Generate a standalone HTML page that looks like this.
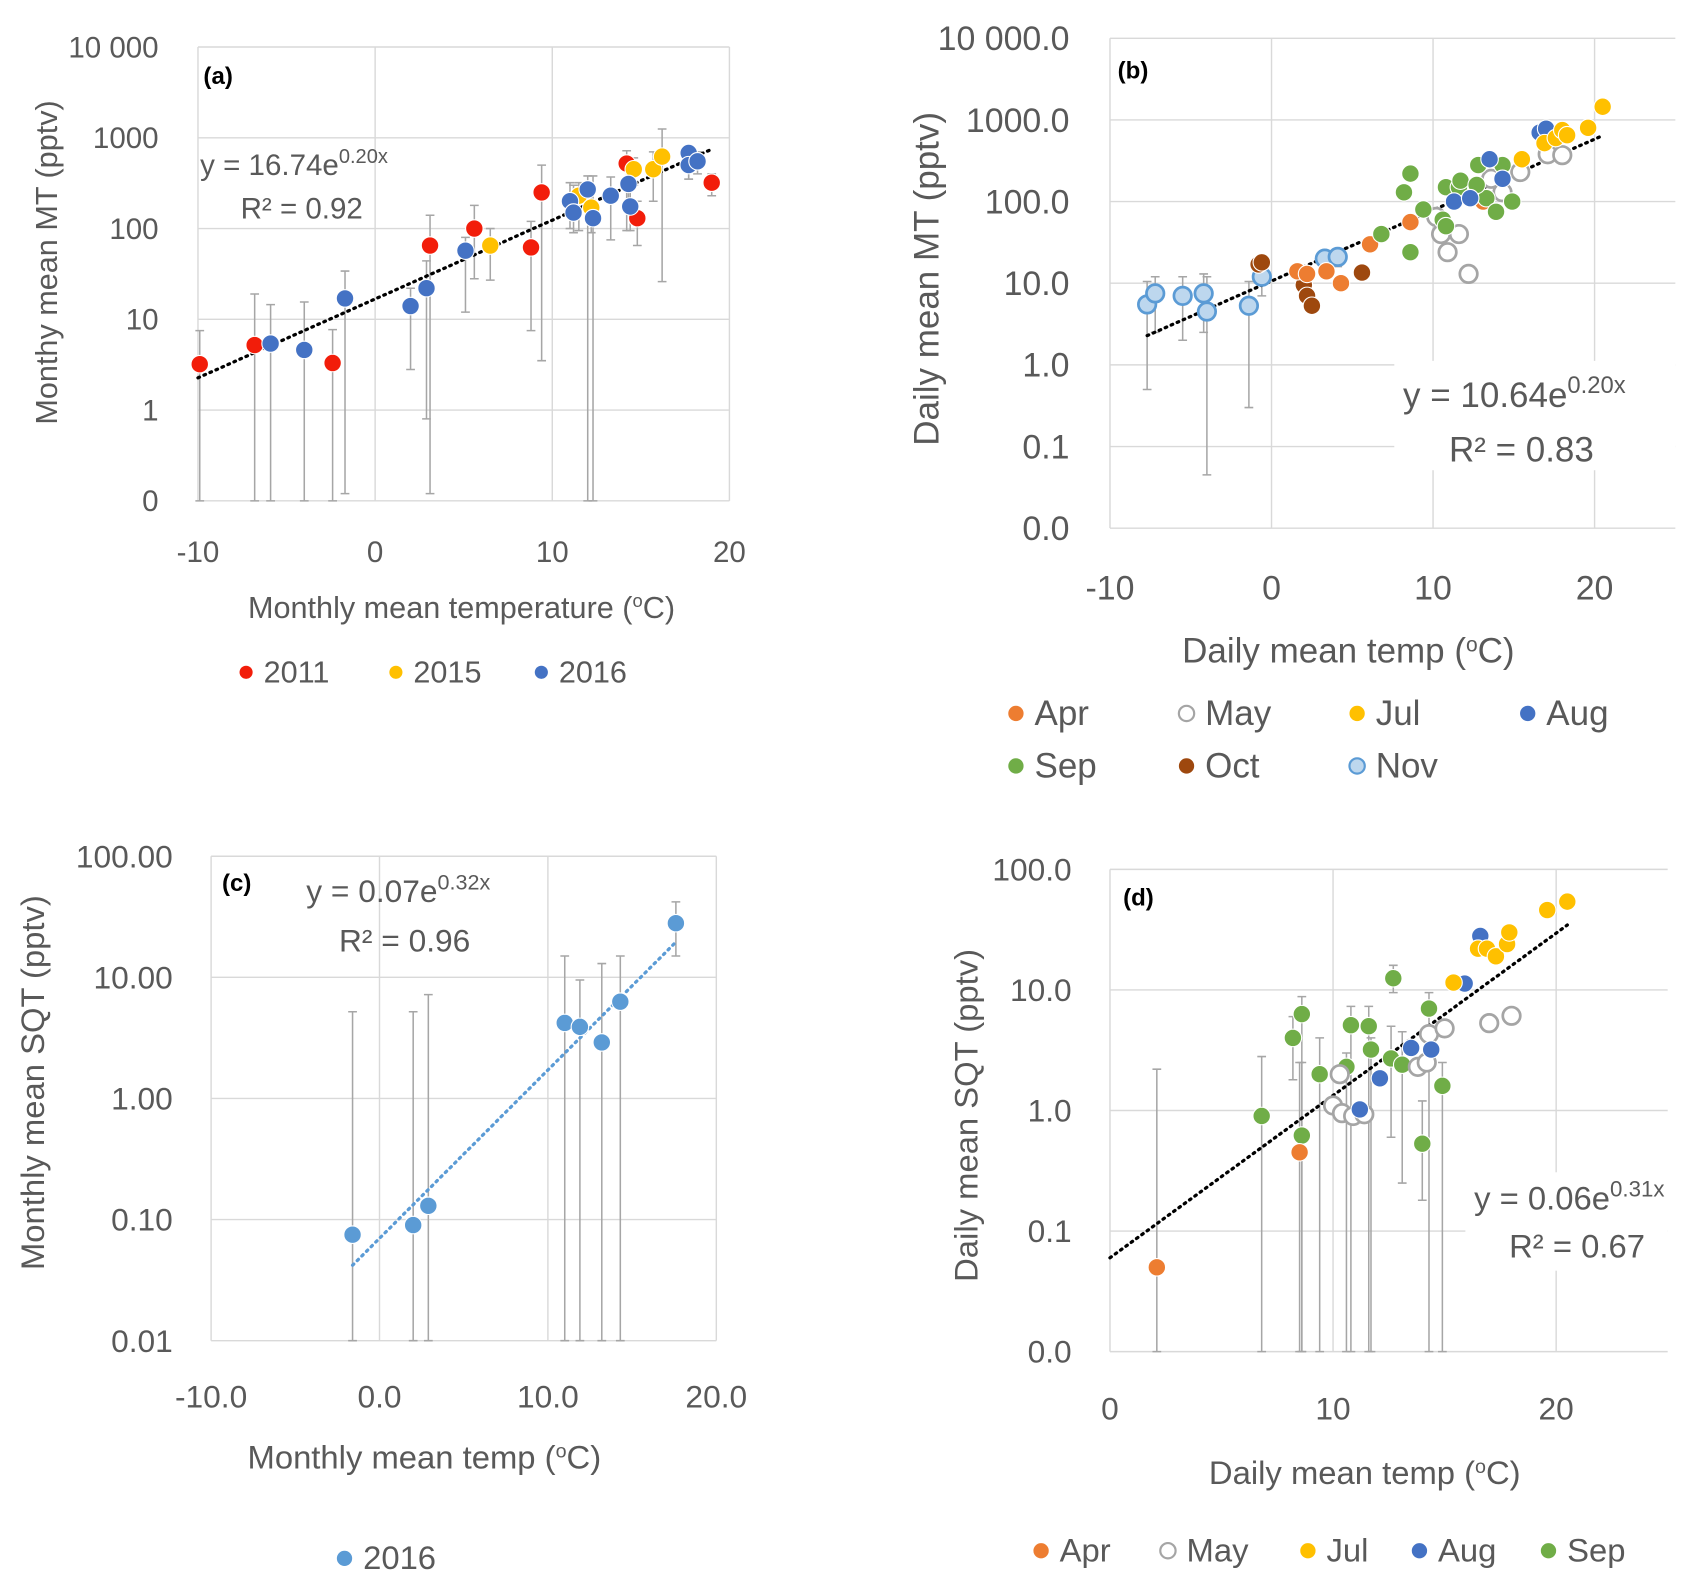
<!DOCTYPE html>
<html><head><meta charset="utf-8"><style>
html,body{margin:0;padding:0;background:#fff}
svg{display:block}
text{font-family:"Liberation Sans",sans-serif;fill:#595959}
</style></head><body>
<svg id="fig" width="1706" height="1590" viewBox="0 0 1560 1454" xmlns="http://www.w3.org/2000/svg"></svg>
<script>
// ---------- Panel (a) data ----------
const aRedX=[-9.9,-6.8,-2.4,3.1,5.6,8.8,9.4,14.2,14.8,19];
const aRedY=[3.2,5.2,3.3,65,100,62,250,520,130,320];
const aRedLo=[0.1,0.1,0.1,0.12,28,7.5,3.5,95,65,230];
const aRedHi=[7.5,19,7.7,140,180,120,500,720,200,400];
const a15X=[6.5,11.5,12.2,14.6,15.7,16.2];
const a15Y=[65,230,170,450,450,620];
const a15Lo=[27,95,90,300,200,26];
const a15Hi=[100,320,300,600,700,1250];
const a16X=[-5.9,-4,-1.7,2,2.9,5.1,11,11.2,12,12.3,13.3,14.3,14.4,17.7,17.7,18.2];
const a16Y=[5.4,4.6,17,14,22,57,200,150,270,130,230,310,175,680,500,550];
const a16Lo=[0.1,0.1,0.12,2.8,0.8,12,100,90,0.1,0.1,75,150,95,350,350,400];
const a16Hi=[14.5,15.5,34,22,44,80,320,300,380,380,370,450,300,800,800,700];
// ---------- Panel (b) data ----------
const bAprX=[1.6,2.2,3.4,4.3,6.1,8.6,13.1];
const bAprY=[14,13,14,10,30,56,100];
const bMayX=[10.2,10.5,10.9,11.6,12.2,13.6,14.3,15.4,17.1,18];
const bMayY=[65,40,24,40,13,190,130,230,380,370];
const bJulX=[15.5,16.9,17.6,18,18.3,19.6,20.5];
const bJulY=[330,520,600,750,650,800,1450];
const bAugX=[11.3,12.3,13.5,14.3,16.6,17];
const bAugY=[100,110,330,190,700,780];
const bSepX=[6.8,8.2,8.6,8.6,9.4,10.6,10.8,10.8,11.6,11.7,12.8,13.3,12.7,13.9,14.3,14.9];
const bSepY=[40,130,220,24,80,60,50,150,150,180,280,110,160,75,280,100];
const bOctX=[-0.8,-0.6,2,2.2,2.5,5.6];
const bOctY=[17,18,9.5,7,5.3,13.5];
const bNovX=[-7.7,-7.2,-5.5,-4.2,-4,-1.4,-0.6,3.3,4.1];
const bNovY=[5.5,7.5,7,7.5,4.5,5.3,12,20,21];
const bNovLo=[0.5,2.5,2,2.5,0.045,0.3,7,15,16];
const bNovHi=[10.5,12,12,13,12,10.5,16,24,25];
// ---------- Panel (c) data ----------
const cX=[-1.6,2,2.9,11,11.9,13.2,14.3,17.6];
const cY=[0.075,0.09,0.13,4.2,3.9,2.9,6.3,28];
const cLo=[0.01,0.01,0.01,0.01,0.01,0.01,0.01,15];
const cHi=[5.2,5.2,7.2,15,9.5,13,15,42];
// ---------- Panel (d) data ----------
const dAprX=[2.1,8.5];
const dAprY=[0.05,0.45];
const dMayX=[10,10.4,10.9,11.4,10.3,13.8,14.2,14.3,15,17,18];
const dMayY=[1.1,0.95,0.9,0.93,2,2.3,2.5,4.3,4.8,5.3,6.1];
const dJulX=[15.4,16.5,16.9,17.3,17.8,17.9,19.6,20.5];
const dJulY=[11.5,22,22,19,24,30,46,54];
const dAugX=[16.6,15.9,11.2,12.1,13.5,14.4];
const dAugY=[28,11.3,1.02,1.85,3.3,3.2];
const dSepX=[6.8,8.2,8.6,8.6,9.4,10.6,10.8,11.6,11.7,12.7,12.6,13.1,14.3,14,14.9];
const dSepY=[0.9,4,6.3,0.62,2,2.3,5.1,5,3.2,12.5,2.7,2.4,7,0.53,1.6];
const dSepLo=[0.01,1.8,0.01,0.01,0.01,0.01,0.01,0.01,0.01,9.5,0.6,0.25,0.01,0.18,0.01];
const dSepHi=[2.8,6,8.8,2.5,4,3,7.3,7.3,4,16,5,4.5,9.5,1.2,2.5];

const NS="http://www.w3.org/2000/svg";
const svg=document.getElementById('fig');
function el(tag,attrs,parent){const e=document.createElementNS(NS,tag);for(const k in attrs)e.setAttribute(k,attrs[k]);(parent||svg).appendChild(e);return e;}
function txt(s,x,y,size,anchor,parent,extra){const t=el('text',Object.assign({x:x,y:y,'font-size':size,'text-anchor':anchor||'start'},extra||{}),parent);t.textContent=s;return t;}

function panel(P){
  const g=el('g',{});
  
  
  const sx=v=>P.x0+(v-P.xmin)/(P.xmax-P.xmin)*(P.x1-P.x0);
  const sy=v=>P.yb-(Math.log10(v)-P.lmin)/(P.lmax-P.lmin)*(P.yb-P.yt);
  for(let d=P.lmin;d<=P.lmax;d++){const y=sy(Math.pow(10,d));
    const l=el('line',{x1:P.x0,x2:P.x1,y1:y,y2:y,stroke:'#d9d9d9','stroke-width':1.3},g);
    
    const t=txt(P.ylab[d-P.lmin],P.ytx,y+P.yfs*0.35,P.yfs,'end',g);
    }
  P.xticks.forEach((v,i)=>{const x=sx(v);
    const l=el('line',{x1:x,x2:x,y1:P.yt,y2:P.yb,stroke:'#d9d9d9','stroke-width':1.3},g);
    
    const t=txt(P.xlab[i],x,P.xty,P.xfs,'middle',g);
    });
  if(P.eqBox){const r=el('rect',P.eqBox,g);r.setAttribute('fill','#fff');}
  P.series.forEach(s=>{if(!s.lo)return;
    s.x.forEach((xv,i)=>{const x=sx(xv),y1=sy(Math.max(s.lo[i],Math.pow(10,P.lmin))),y2=sy(s.hi[i]);
      const e=el('path',{d:`M${x},${y1}V${y2}M${x-4},${y2}H${x+4}M${x-4},${y1}H${x+4}`,stroke:'#a6a6a6','stroke-width':1.4,fill:'none'},g);
      });});
  const pts=[];for(let i=0;i<=60;i++){const xv=P.tr[2]+(P.tr[3]-P.tr[2])*i/60;pts.push(sx(xv).toFixed(1)+','+sy(P.tr[0]*Math.exp(P.tr[1]*xv)).toFixed(1));}
  const tl=el('polyline',{points:pts.join(' '),fill:'none',stroke:P.trc,'stroke-width':3,'stroke-dasharray':'1.5 4.5','stroke-linecap':'round'},g);
  
  P.series.forEach(s=>{s.x.forEach((xv,i)=>{
    const c=el('circle',{cx:sx(xv),cy:sy(s.y[i]),r:P.r,fill:s.fill,stroke:s.stroke||'#fff','stroke-width':s.sw||1},g);
    });});
  P.legend.forEach(L=>{
    const c=el('circle',{cx:L[0],cy:L[1]-P.lfs*0.33,r:P.lr,fill:L[3].fill,stroke:L[3].stroke||'none','stroke-width':2},g);
    
    const t=txt(L[2],L[0]+P.lr+10,L[1],P.lfs,'start',g);
    });
  const pl=txt(P.tag[0],P.tag[1],P.tag[2],22,'start',g,{'font-weight':'bold',style:'fill:#000'});
  
  const e1=el('text',{x:P.eq[0],y:P.eq[1],'font-size':P.eqfs},g);
  e1.innerHTML=P.eqs+'<tspan dy="-'+(P.eqfs*0.4)+'" font-size="'+(P.eqfs*0.68)+'">'+P.eqe+'</tspan>';
  
  const e2=txt(P.r2,P.eq[2],P.eq[3],P.eqfs,'start',g);
  
  const yt=el('text',{x:0,y:0,'font-size':P.tfs,'text-anchor':'middle',transform:`translate(${P.yttl[1]},${P.yttl[2]}) rotate(-90)`},g);
  yt.textContent=P.yttl[0];
  const xt=el('text',{x:P.xttl[1],y:P.xttl[2],'font-size':P.tfs,'text-anchor':'middle'},g);
  xt.innerHTML=P.xttl[0]+' (<tspan dy="-10" font-size="'+(P.tfs*0.6)+'">o</tspan><tspan dy="10">C)</tspan>';
  
}
const RED='#f21d0a',YEL='#ffc000',BLU='#4472c4',ORA='#ed7d31',GRN='#70ad47',BRN='#9e480e',LB='#5b9bd5';
panel({name:'panel-a',x0:181,x1:667,xmin:-10,xmax:20,yt:43,yb:458,lmin:-1,lmax:4,
  ylab:['0','1','10','100','1000','10 000'],ytx:145,yfs:27,xticks:[-10,0,10,20],xlab:['-10','0','10','20'],xty:514,xfs:27,
  tr:[16.74,0.2,-10,19],trc:'#000',r:8,
  series:[{key:'2011',x:aRedX,y:aRedY,lo:aRedLo,hi:aRedHi,fill:RED},{key:'2015',x:a15X,y:a15Y,lo:a15Lo,hi:a15Hi,fill:YEL},{key:'2016',x:a16X,y:a16Y,lo:a16Lo,hi:a16Hi,fill:BLU}],
  legend:[[225,624,'2011',{fill:RED}],[362,624,'2015',{fill:YEL}],[495,624,'2016',{fill:BLU}]],lr:6,lfs:28,
  tag:['(a)',186,77],eq:[183,160,220,200],eqfs:27,eqs:'y = 16.74e',eqe:'0.20x',r2:'R² = 0.92',
  yttl:['Monthy mean MT (pptv)',52,240],xttl:['Monthly mean temperature',422,565],tfs:28});
panel({name:'panel-b',x0:1015,x1:1532,xmin:-10,xmax:25,yt:35,yb:483,lmin:-2,lmax:4,
  ylab:['0.0','0.1','1.0','10.0','100.0','1000.0','10 000.0'],ytx:978,yfs:31,xticks:[-10,0,10,20],xlab:['-10','0','10','20'],xty:548,xfs:31,
  eqBox:{x:1275,y:330,width:257,height:100},
  tr:[10.64,0.2,-7.7,20.3],trc:'#000',r:8,
  series:[{key:'nov',x:bNovX,y:bNovY,lo:bNovLo,hi:bNovHi,fill:'#bdd7ee',stroke:LB,sw:2.5},{key:'oct',x:bOctX,y:bOctY,fill:BRN},{key:'apr',x:bAprX,y:bAprY,fill:ORA},
    {key:'may',x:bMayX,y:bMayY,fill:'#fff',stroke:'#a5a5a5',sw:2.5},{key:'sep',x:bSepX,y:bSepY,fill:GRN},{key:'aug',x:bAugX,y:bAugY,fill:BLU},{key:'jul',x:bJulX,y:bJulY,fill:YEL}],
  legend:[[929,663,'Apr',{fill:ORA}],[1085,663,'May',{fill:'#fff',stroke:'#a5a5a5'}],[1241,663,'Jul',{fill:YEL}],[1397,663,'Aug',{fill:BLU}],
    [929,711,'Sep',{fill:GRN}],[1085,711,'Oct',{fill:BRN}],[1241,711,'Nov',{fill:'#bdd7ee',stroke:LB}]],lr:7,lfs:32,
  tag:['(b)',1022,72],eq:[1283,372,1325,422],eqfs:32,eqs:'y = 10.64e',eqe:'0.20x',r2:'R² = 0.83',
  yttl:['Daily mean MT (pptv)',858,255],xttl:['Daily mean temp',1233,606],tfs:32});
panel({name:'panel-c',x0:193,x1:655,xmin:-10,xmax:20,yt:783,yb:1226,lmin:-2,lmax:2,
  ylab:['0.01','0.10','1.00','10.00','100.00'],ytx:158,yfs:29,xticks:[-10,0,10,20],xlab:['-10.0','0.0','10.0','20.0'],xty:1287,xfs:29,
  tr:[0.07,0.32,-1.6,17.6],trc:LB,r:8,
  series:[{key:'2016',x:cX,y:cY,lo:cLo,hi:cHi,fill:LB}],
  legend:[[315,1435,'2016',{fill:LB}]],lr:7,lfs:30,
  tag:['(c)',203,815],eq:[280,825,310,870],eqfs:29,eqs:'y = 0.07e',eqe:'0.32x',r2:'R² = 0.96',
  yttl:['Monthly mean SQT (pptv)',40,990],xttl:['Monthly mean temp',388,1343],tfs:30});
panel({name:'panel-d',x0:1015,x1:1525,xmin:0,xmax:25,yt:795,yb:1236,lmin:-2,lmax:2,
  ylab:['0.0','0.1','1.0','10.0','100.0'],ytx:980,yfs:29,xticks:[0,10,20],xlab:['0','10','20'],xty:1298,xfs:29,
  eqBox:{x:1340,y:1072,width:185,height:90},
  tr:[0.06,0.31,0,20.5],trc:'#000',r:8,
  series:[{key:'sep',x:dSepX,y:dSepY,lo:dSepLo,hi:dSepHi,fill:GRN},{key:'apr',x:dAprX,y:dAprY,lo:[0.01,0.01],hi:[2.2,2.5],fill:ORA},
    {key:'may',x:dMayX,y:dMayY,fill:'#fff',stroke:'#a5a5a5',sw:2.5},{key:'aug',x:dAugX,y:dAugY,fill:BLU},{key:'jul',x:dJulX,y:dJulY,fill:YEL}],
  legend:[[952,1428,'Apr',{fill:ORA}],[1068,1428,'May',{fill:'#fff',stroke:'#a5a5a5'}],[1196,1428,'Jul',{fill:YEL}],[1298,1428,'Aug',{fill:BLU}],[1416,1428,'Sep',{fill:GRN}]],lr:7,lfs:30,
  tag:['(d)',1027,828],eq:[1348,1106,1380,1150],eqfs:30,eqs:'y = 0.06e',eqe:'0.31x',r2:'R² = 0.67',
  yttl:['Daily mean SQT (pptv)',894,1020],xttl:['Daily mean temp',1248,1357],tfs:30});
</script>
</body></html>
